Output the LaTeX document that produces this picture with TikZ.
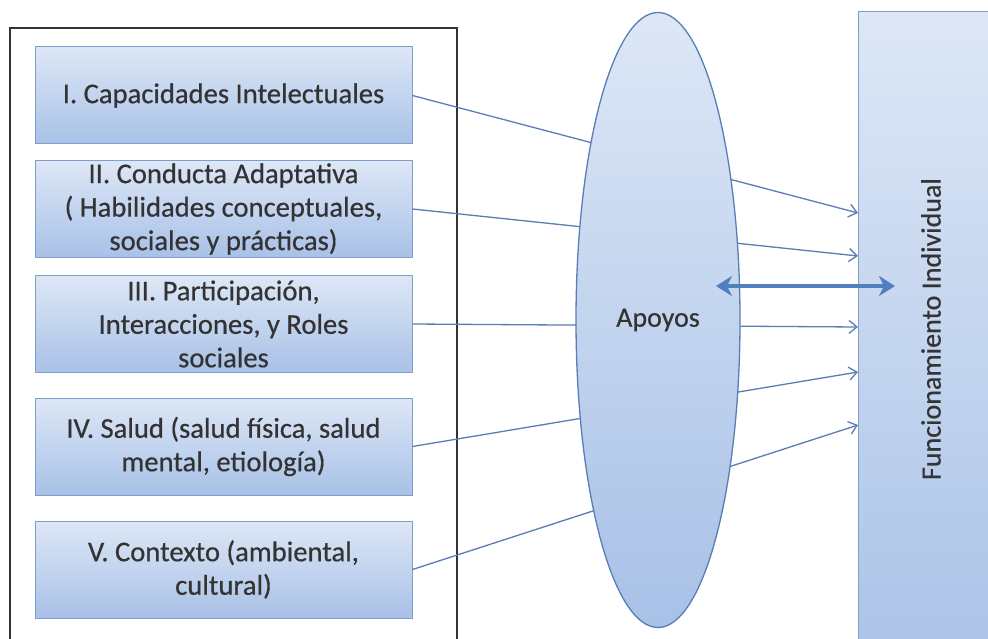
\documentclass[tikz,border=0pt]{standalone}
\usepackage{fontspec}
\setmainfont{Carlito}[FakeBold=0.5]
\usetikzlibrary{shapes.geometric,arrows.meta}
\definecolor{boxtop}{HTML}{DDE7F6}
\definecolor{boxbot}{HTML}{A8C1E7}
\definecolor{boxline}{HTML}{7F9ED0}
\definecolor{conn}{HTML}{5A7DB5}
\definecolor{txt}{HTML}{333333}
\definecolor{dbl}{HTML}{4F7FBD}
\definecolor{frame}{HTML}{333333}
\begin{document}
\begin{tikzpicture}[x=1pt,y=-1pt,
  lbl/.style={font=\fontsize{28}{33.5}\selectfont, text=txt},
  dimbox/.style={lbl, font=\fontsize{28.6}{33.5}\selectfont, rectangle, draw=boxline, line width=1pt, top color=boxtop, bottom color=boxbot,
     minimum width=377pt, minimum height=97pt, inner sep=0pt, align=center},
  conn/.style={draw=conn, line width=1.3pt, -{Straight Barb[length=8pt,width=13pt]}},
  dblarrow/.style={draw=dbl, line width=4pt, {Stealth[length=16pt,width=20pt,inset=5pt]}-{Stealth[length=16pt,width=20pt,inset=5pt]}}
]
\clip (0,0) rectangle (988,639);
\fill[white] (0,0) rectangle (988,639);

% outer frame
\draw[frame, line width=1.5pt] (10,28) rectangle (457,700);

% right box
\draw[draw=boxline, line width=1pt, top color=boxtop, bottom color=boxbot] (858,12) rectangle (1000,700);
\node[lbl, rotate=90] (fi) at (931,329) {Funcionamiento Individual};

% dimension boxes
\node[dimbox] (b1) at (223.5,95.5) {I. Capacidades Intelectuales};
\node[dimbox] (b2) at (223.5,209) {II. Conducta Adaptativa\\( Habilidades conceptuales,\\sociales y prácticas)};
\node[dimbox] (b3) at (223.5,324) {III. Participación,\\Interacciones, y Roles\\sociales};
\node[dimbox] (b4) at (223.5,446.5) {IV. Salud (salud física, salud\\mental, etiología)};
\node[dimbox] (b5) at (223.5,569.5) {V. Contexto (ambiental,\\cultural)};

% arrow end points on the right box
\coordinate (t1) at (858,213);
\coordinate (t2) at (858,256);
\coordinate (t3) at (858,327);
\coordinate (t4) at (858,372);
\coordinate (t5) at (858,425);

\draw[conn] (b1.east) -- (t1);
\draw[conn] (b2.east) -- (t2);
\draw[conn] (b3.east) -- (t3);
\draw[conn] (b4.east) -- (t4);
\draw[conn] (b5.east) -- (t5);

% supports ellipse
\node[lbl, ellipse, draw=conn, line width=1.3pt, top color=boxtop, bottom color=boxbot,
      minimum width=164pt, minimum height=615pt, inner sep=0pt] (ap) at (658,320) {Apoyos};

% double arrow
\coordinate (d1) at (716,286);
\coordinate (d2) at (895,286);
\draw[dblarrow] (d1) -- (d2);
\end{tikzpicture}
\end{document}
